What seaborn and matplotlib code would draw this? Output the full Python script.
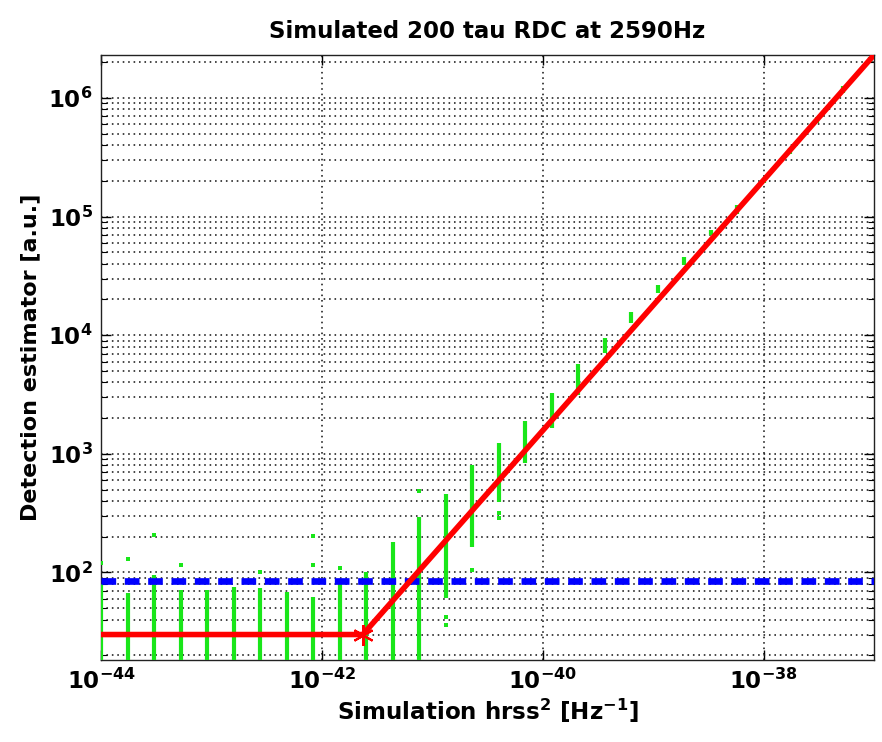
import numpy as np
import pandas as pd
import matplotlib
matplotlib.use("Agg")
import matplotlib.pyplot as plt
import seaborn as sns
from matplotlib.ticker import FixedLocator, FixedFormatter, LogLocator, NullFormatter

# ---------------- data ----------------
# injection amplitudes (log10 of hrss^2)
inj_log_x = [-44.00, -43.76, -43.52, -43.28, -43.04, -42.80, -42.56, -42.32, -42.08, -41.84,
             -41.60, -41.36, -41.12, -40.88, -40.64, -40.40, -40.16, -39.92, -39.68, -39.44,
             -39.20, -38.96, -38.72, -38.48, -38.24, -38.00, -37.76, -37.52, -37.28, -37.04]
# extent of the detection-estimator cloud at each injection
bar_lo = [15, 15, 15, 15, 15, 15, 15, 15, 15, 15,
          15, 15, 15, 61, 165, 395, 830, 1640, 3140, 7100,
          12600, 22600, 39200, 70000, 1.05e5, 1.9e5, 3.4e5, 6.1e5, 1.1e6, 2.0e6]
bar_hi = [80, 67, 95, 71, 71, 76, 74, 69, 62, 84,
          100, 182, 295, 458, 805, 1230, 1910, 3230, 5700, 9440,
          15600, 26500, 45500, 77300, 1.25e5, 2.1e5, 3.8e5, 6.9e5, 1.25e6, 2.2e6]
# isolated outlier points (index into inj_log_x, value)
out_idx = [0, 1, 2, 3, 6, 8, 8, 9, 12, 13, 13, 14, 15, 15]
out_val = [121, 130, 207, 115, 101, 203, 116, 109, 490, 36, 42, 105, 288, 320]

# fitted detection curve
fit_x = [1e-44, 2.35e-42, 1e-37]
fit_y = [30, 30, 2.3e6]
knee_x = [2.35e-42]
knee_y = [30]

# threshold
threshold = 85

x_ticks = [1e-44, 1e-42, 1e-40, 1e-38]
x_tick_labels = [r'$\mathbf{10^{-44}}$', r'$\mathbf{10^{-42}}$', r'$\mathbf{10^{-40}}$', r'$\mathbf{10^{-38}}$']
y_ticks = [1e2, 1e3, 1e4, 1e5, 1e6]
y_tick_labels = [r'$\mathbf{10^{2}}$', r'$\mathbf{10^{3}}$', r'$\mathbf{10^{4}}$', r'$\mathbf{10^{5}}$', r'$\mathbf{10^{6}}$']

# ---------------- style ----------------
sns.set_style("white")
plt.rcParams['font.family'] = ['DejaVu Sans']
plt.rcParams['mathtext.fontset'] = 'dejavusans'
plt.rcParams['text.color'] = 'black'
plt.rcParams['axes.labelcolor'] = 'black'
plt.rcParams['xtick.color'] = 'black'
plt.rcParams['ytick.color'] = 'black'

fig = plt.figure(figsize=(8.82, 7.42), dpi=100)
ax = fig.add_axes([101/882, 1-660/742, (874-101)/882, (660-55)/742])
ax.set_xscale('log')
ax.set_yscale('log')
ax.set_xlim(1e-44, 1e-37)
ax.set_ylim(18.3, 2.3e6)

green = '#19e619'
xs = np.power(10.0, inj_log_x)
ax.vlines(xs, bar_lo, bar_hi, colors=green, linewidth=3.0, zorder=3)
ox = [xs[i] for i in out_idx]
sns.scatterplot(x=ox, y=out_val, ax=ax, color=green, marker='s', s=10, linewidth=0, zorder=3)

# threshold line
ax.axhline(threshold, color='#0000ff', linewidth=4.8, dashes=(2.2, 1.3),
           dash_capstyle='butt', zorder=4)

# fit curve
df = pd.DataFrame({'x': fit_x, 'y': fit_y})
sns.lineplot(data=df, x='x', y='y', ax=ax, color='#ff0000', linewidth=4.0,
             estimator=None, sort=False, zorder=5)
ax.plot(knee_x, knee_y, marker=(6, 2, 0), markersize=15, color='#ff0000',
        markeredgewidth=1.5, linestyle='none', zorder=6)

# grid
ax.xaxis.set_major_locator(FixedLocator(x_ticks))
ax.xaxis.set_major_formatter(FixedFormatter(x_tick_labels))
ax.xaxis.set_minor_locator(FixedLocator([]))
ax.yaxis.set_major_locator(FixedLocator(y_ticks))
ax.yaxis.set_major_formatter(FixedFormatter(y_tick_labels))
ax.yaxis.set_minor_locator(LogLocator(base=10, subs=np.arange(2, 10), numticks=50))
ax.yaxis.set_minor_formatter(NullFormatter())

grid_kw = dict(color='#1a1a1a', linewidth=1.15, linestyle=(0, (1.0, 2.4)))
ax.grid(True, which='major', axis='both', **grid_kw)
ax.grid(True, which='minor', axis='y', **grid_kw)

ax.tick_params(which='both', direction='in', top=True, right=True, bottom=True, left=True)
ax.tick_params(which='major', length=7, width=1, labelsize=16.5, pad=6)
ax.tick_params(which='minor', length=4, width=0.8)
for sp in ax.spines.values():
    sp.set_visible(True)
    sp.set_color('#222222')
    sp.set_linewidth(1.0)

ax.set_title('Simulated 200 tau RDC at 2590Hz', fontsize=16.5, fontweight='bold', pad=12, color='black')
ax.set_xlabel(r'Simulation hrss$^{\mathbf{2}}$ [Hz$^{\mathbf{-1}}$]', fontsize=16.6, fontweight='bold', labelpad=2)
ax.set_ylabel('Detection estimator [a.u.]', fontsize=16, fontweight='bold', labelpad=6)

fig.savefig('out.png', dpi=100)
